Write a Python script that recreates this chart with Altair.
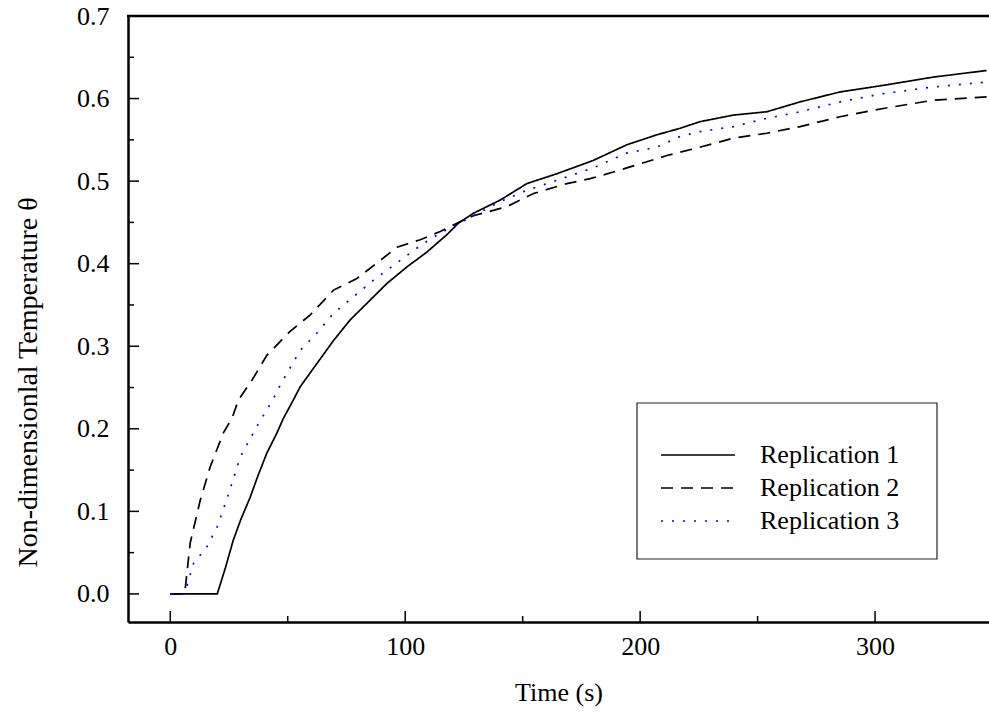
import altair as alt
import pandas as pd

# ---- data ----
rep1_t = [0, 5, 10, 15, 20, 23.5, 26.8, 30, 34, 36.9, 41, 45.4, 48.2, 52.4, 55.3, 62.4, 69.5, 76.6, 83.7, 92.2,
          100.7, 109.2, 117.7, 122.6, 129, 140.4, 151.8, 164.6, 180, 194.3, 207, 217, 225.5, 239.7, 253.9,
          268.1, 285.1, 303.5, 324.8, 347.5]
rep1_v = [0, 0, 0, 0, 0, 0.032, 0.065, 0.090, 0.117, 0.140, 0.170, 0.195, 0.213, 0.235, 0.251, 0.279, 0.307,
          0.332, 0.352, 0.376, 0.396, 0.414, 0.435, 0.449, 0.461, 0.477, 0.497, 0.509, 0.525, 0.544, 0.556,
          0.564, 0.572, 0.580, 0.584, 0.596, 0.608, 0.616, 0.626, 0.634]

rep2_t = [0, 3, 6, 6.5, 8.5, 12.8, 17, 22.6, 26.3, 29, 34.8, 41.1, 51, 59.6, 69.5, 79.4, 89.4, 96.5, 106.4,
          114.9, 122, 129, 143.2, 154.6, 168.8, 178.7, 188.6, 200, 211.4, 222.7, 239.7, 253.9, 268.1, 285.1,
          303.5, 324.8, 347.5]
rep2_v = [0, 0, 0, 0.01, 0.062, 0.114, 0.154, 0.195, 0.213, 0.235, 0.259, 0.289, 0.318, 0.338, 0.368, 0.382,
          0.404, 0.420, 0.429, 0.439, 0.449, 0.458, 0.469, 0.485, 0.497, 0.503, 0.511, 0.521, 0.531, 0.539,
          0.552, 0.558, 0.566, 0.578, 0.588, 0.598, 0.602]

rep3_t = [0, 3, 5.5, 7, 9.9, 15.6, 19.9, 24, 29.8, 36.9, 44, 47, 55.3, 62.4, 69.5, 78, 86.5, 97.9, 106.4,
          114.9, 129, 140.4, 151.8, 164.6, 180, 194.3, 207, 217, 225.5, 239.7, 253.9, 268.1, 285.1, 303.5,
          324.8, 347.5]
rep3_v = [0, 0, 0, 0.009, 0.037, 0.057, 0.081, 0.114, 0.166, 0.203, 0.237, 0.254, 0.295, 0.316, 0.340, 0.360,
          0.380, 0.404, 0.422, 0.437, 0.458, 0.475, 0.489, 0.501, 0.516, 0.534, 0.541, 0.554, 0.560, 0.566,
          0.576, 0.584, 0.596, 0.606, 0.614, 0.620]

series_names = ["Replication 1", "Replication 2", "Replication 3"]
series_colors = ["black", "black", "#0000ff"]
series_dashes = [[1, 0], [12, 8], [2, 9]]
series_widths = [1.7, 1.7, 2.0]

x_major = [0, 100, 200, 300]
x_minor = [50, 150, 250]
y_major = [0.0, 0.1, 0.2, 0.3, 0.4, 0.5, 0.6, 0.7]
y_minor = [0.05, 0.15, 0.25, 0.35, 0.45, 0.55, 0.65]

x_title = "Time (s)"
y_title = "Non-dimensionlal Temperature \u03b8"

# ---- build table ----
rows = []
for name, ts, vs in [(series_names[0], rep1_t, rep1_v),
                     (series_names[1], rep2_t, rep2_v),
                     (series_names[2], rep3_t, rep3_v)]:
    for i, (t, v) in enumerate(zip(ts, vs)):
        rows.append({"series": name, "t": t, "v": v, "i": i})
df = pd.DataFrame(rows)

FONT = "'Liberation Serif', 'Times New Roman', Times, serif"
FS = 26
W, H = 861, 606
xscale = alt.Scale(domain=[-18, 348.5], nice=False, zero=False)
yscale = alt.Scale(domain=[-0.034, 0.7], nice=False, zero=False)

lines = alt.Chart(df).mark_line(clip=True).encode(
    x=alt.X("t:Q", scale=xscale,
            axis=alt.Axis(values=x_major, ticks=False, grid=False, domainWidth=2.5, domainColor="black",
                          labelFont=FONT, labelFontSize=FS, labelColor="black", labelPadding=11,
                          labelFlush=False,
                          title=x_title, titleFont=FONT, titleFontSize=FS, titleFontWeight="normal",
                          titleColor="black", titleY=78, titleBaseline="alphabetic")),
    y=alt.Y("v:Q", scale=yscale,
            axis=alt.Axis(values=y_major, format=".1f", ticks=False, grid=False, domainWidth=2.5,
                          domainColor="black", labelFont=FONT, labelFontSize=FS, labelColor="black",
                          labelPadding=19, labelFlush=False,
                          title=y_title, titleFont=FONT, titleFontSize=28, titleFontWeight="normal",
                          titleColor="black", titleX=-100, titleY=366, titleAlign="center",
                          titleBaseline="middle", titleAngle=-90)),
    color=alt.Color("series:N", scale=alt.Scale(domain=series_names, range=series_colors), legend=None),
    strokeDash=alt.StrokeDash("series:N", scale=alt.Scale(domain=series_names, range=series_dashes),
                              legend=None),
    strokeWidth=alt.StrokeWidth("series:N", scale=alt.Scale(domain=series_names, range=series_widths),
                                legend=None),
    order="i:Q",
)

xmaj = alt.Chart(pd.DataFrame({"t": x_major})).mark_rule(color="black", strokeWidth=1.5).encode(
    x=alt.X("t:Q", scale=xscale), y=alt.value(H), y2=alt.value(H - 11))
xmin = alt.Chart(pd.DataFrame({"t": x_minor})).mark_rule(color="black", strokeWidth=1.5).encode(
    x=alt.X("t:Q", scale=xscale), y=alt.value(H), y2=alt.value(H - 6))
ymaj = alt.Chart(pd.DataFrame({"v": y_major})).mark_rule(color="black", strokeWidth=1.5).encode(
    y=alt.Y("v:Q", scale=yscale), x=alt.value(0), x2=alt.value(11))
ymin = alt.Chart(pd.DataFrame({"v": y_minor})).mark_rule(color="black", strokeWidth=1.5).encode(
    y=alt.Y("v:Q", scale=yscale), x=alt.value(0), x2=alt.value(6))

top = alt.Chart(pd.DataFrame({"v": [0.7]})).mark_rule(color="black", strokeWidth=2.5).encode(
    y=alt.Y("v:Q", scale=yscale), x=alt.value(-1), x2=alt.value(W))

# ---- legend (box + entries) ----
box = alt.Chart(pd.DataFrame({"k": [0]})).mark_rect(fill="white", stroke="#222222", strokeWidth=1.2).encode(
    x=alt.value(509), x2=alt.value(809), y=alt.value(387), y2=alt.value(543))

legend_layers = []
row_y = [439, 472, 505]
for k, name in enumerate(series_names):
    one = pd.DataFrame({"series": [name]})
    legend_layers.append(
        alt.Chart(one).mark_rule(color=series_colors[k], strokeDash=series_dashes[k],
                                 strokeWidth=1.5).encode(
            x=alt.value(533), x2=alt.value(607), y=alt.value(row_y[k])))
    legend_layers.append(
        alt.Chart(one).mark_text(font=FONT, fontSize=FS, color="black", align="left",
                                 baseline="middle").encode(
            text="series:N", x=alt.value(632), y=alt.value(row_y[k])))

chart = alt.layer(box, lines, xmaj, xmin, ymaj, ymin, top, *legend_layers).properties(
    width=W, height=H,
    autosize=alt.AutoSizeParams(type="none"),
    padding={"left": 128, "top": 16, "right": 0, "bottom": 90},
    background="white",
).configure_view(stroke=None)

chart.save("out.html", embed_options={"renderer": "svg", "actions": False})
